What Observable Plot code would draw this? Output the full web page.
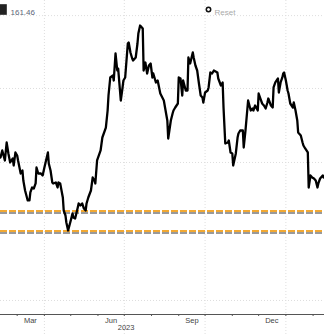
<!DOCTYPE html>
<html>
<head>
<meta charset="utf-8">
<script src="https://cdn.jsdelivr.net/npm/d3@7"></script>
<script src="https://cdn.jsdelivr.net/npm/@observablehq/plot@0.6"></script>
<style>
  html, body { margin: 0; padding: 0; background: #fff; }
  #chart svg { display: block; }
</style>
</head>
<body>
<div id="chart"></div>
<script>
const dates = [
  "2023-02-08","2023-02-10","2023-02-12","2023-02-15","2023-02-17","2023-02-19","2023-02-21","2023-02-24","2023-02-25","2023-02-27",
  "2023-03-01","2023-03-02","2023-03-05","2023-03-07","2023-03-08","2023-03-10","2023-03-13","2023-03-15","2023-03-16","2023-03-18",
  "2023-03-20","2023-03-22","2023-03-23","2023-03-25","2023-03-28","2023-03-30","2023-04-01","2023-04-05","2023-04-06","2023-04-08",
  "2023-04-10","2023-04-11","2023-04-14","2023-04-16","2023-04-17","2023-04-19","2023-04-22","2023-04-23","2023-04-25","2023-04-26",
  "2023-04-28","2023-05-01","2023-05-03","2023-05-04","2023-05-06","2023-05-09","2023-05-10","2023-05-12","2023-05-14","2023-05-16",
  "2023-05-18","2023-05-19","2023-05-21","2023-05-24","2023-05-26","2023-05-28","2023-05-29","2023-05-31","2023-06-04","2023-06-06",
  "2023-06-10","2023-06-12","2023-06-13","2023-06-15","2023-06-18","2023-06-19","2023-06-21","2023-06-23","2023-06-24","2023-06-27",
  "2023-06-29","2023-06-30","2023-07-02","2023-07-05","2023-07-06","2023-07-08","2023-07-10","2023-07-11","2023-07-14","2023-07-16",
  "2023-07-17","2023-07-19","2023-07-22","2023-07-23","2023-07-25","2023-07-27","2023-07-29","2023-07-31","2023-08-02","2023-08-03",
  "2023-08-06","2023-08-08","2023-08-11","2023-08-15","2023-08-19","2023-08-20","2023-08-23","2023-08-25","2023-08-26","2023-08-28",
  "2023-08-31","2023-09-01","2023-09-03","2023-09-05","2023-09-06","2023-09-09","2023-09-11","2023-09-12","2023-09-14","2023-09-17",
  "2023-09-18","2023-09-20","2023-09-22","2023-09-24","2023-09-26","2023-09-28","2023-09-29","2023-10-01","2023-10-04","2023-10-05",
  "2023-10-07","2023-10-09","2023-10-11","2023-10-15","2023-10-16","2023-10-19","2023-10-21","2023-10-22","2023-10-24","2023-10-27",
  "2023-10-28","2023-10-30","2023-11-01","2023-11-02","2023-11-05","2023-11-07","2023-11-08","2023-11-10","2023-11-13","2023-11-14",
  "2023-11-16","2023-11-18","2023-11-19","2023-11-22","2023-11-24","2023-11-25","2023-11-27","2023-11-30","2023-12-01","2023-12-03",
  "2023-12-05","2023-12-07","2023-12-09","2023-12-11","2023-12-12","2023-12-15","2023-12-17","2023-12-18","2023-12-20","2023-12-23",
  "2023-12-24","2023-12-26","2023-12-28","2023-12-29","2023-12-30","2024-01-01","2024-01-03","2024-01-04","2024-01-06","2024-01-09",
  "2024-01-10","2024-01-12","2024-01-14","2024-01-15","2024-01-18","2024-01-20","2024-01-21","2024-01-23","2024-01-26","2024-01-27",
  "2024-01-29","2024-01-31","2024-02-02","2024-02-04","2024-02-06","2024-02-07","2024-02-09","2024-02-12","2024-02-13","2024-02-14"
];
const closes = [
  166.3,166.35,168.24,165.54,170.40,167.43,165.00,166.08,164.19,167.70,
  166.89,165.54,162.02,162.83,160.13,157.43,154.73,154.73,156.89,158.24,
  157.97,159.32,163.64,162.02,162.02,161.48,163.64,167.70,164.73,162.83,
  159.59,159.32,159.59,158.24,159.59,159.32,155.54,152.02,150.67,148.78,
  146.62,149.32,151.21,150.13,149.86,152.83,153.92,153.38,153.92,152.56,
  152.02,153.92,155.54,157.43,160.94,160.13,159.32,165.54,168.24,171.75,
  174.45,179.05,183.10,187.97,188.51,187.16,194.46,189.86,190.40,181.75,
  185.27,187.16,187.97,197.16,197.43,194.73,193.10,192.56,193.37,197.16,
  199.86,202.02,201.21,189.86,192.02,189.05,191.21,191.75,187.97,189.05,
  186.62,187.16,183.64,181.75,176.35,171.48,176.35,178.24,179.05,179.86,
  180.94,187.97,187.70,183.10,187.16,184.45,184.45,193.37,191.75,194.73,
  193.37,191.21,189.86,186.35,183.10,182.56,181.21,183.91,184.45,185.27,
  189.32,189.05,189.86,189.32,187.70,185.81,186.62,179.86,170.13,170.40,
  170.94,167.70,167.43,164.19,167.43,171.75,172.83,173.64,173.64,169.05,
  173.64,179.05,181.75,179.05,179.59,179.05,180.40,179.05,183.64,182.29,
  180.94,180.40,179.59,181.21,182.29,180.40,179.86,185.27,186.62,187.70,
  183.91,186.62,187.97,189.05,189.32,187.16,184.45,183.64,180.94,179.86,
  181.21,179.05,176.35,173.10,172.29,170.40,169.59,168.78,167.70,158.24,
  161.48,160.94,160.67,160.13,158.24,159.32,160.67,161.48,160.94,161.46
];
const supportLevels = [151.6, 146.2];
const gridLevels = [204.7, 185, 165, 146.3, 127.7];
const quarterStarts = ["2023-04-01","2023-07-01","2023-10-01","2024-01-01"];
const monthStarts = ["2023-03-01","2023-04-01","2023-05-01","2023-06-01","2023-07-01","2023-08-01",
  "2023-09-01","2023-10-01","2023-11-01","2023-12-01","2024-01-01","2024-02-01"];
const monthLabelDates = ["2023-03-16","2023-06-16","2023-09-16","2023-12-16"];
const monthLabels = ["Mar","Jun","Sep","Dec"];
const yearLabelDates = ["2023-07-03"];
const yearLabels = ["2023"];
const lastValueLabel = ["161.46"];
const resetLabel = ["Reset"];

const series = dates.map((d, i) => ({date: new Date(d), close: closes[i]}));
const P = s => new Date(s);

const chart = Plot.plot({
  width: 324,
  height: 336,
  marginTop: 0,
  marginBottom: 22,
  marginLeft: 0,
  marginRight: 0,
  style: {fontFamily: "'Liberation Sans', Arial, sans-serif", fontSize: "7.5px", background: "#fff", overflow: "visible"},
  x: {type: "utc", domain: [P("2023-02-10"), P("2024-02-14")], axis: null},
  y: {domain: [123.91, 208.78], axis: null},
  marks: [
    Plot.ruleY(gridLevels, {stroke: "#dedede", strokeDasharray: "1,2", strokeWidth: 1}),
    Plot.ruleX(quarterStarts.map(P), {stroke: "#dedede", strokeDasharray: "1,2", strokeWidth: 1, insetBottom: -22}),
    Plot.ruleY(supportLevels, {stroke: "#9a9a9a", strokeWidth: 2, strokeDasharray: "7,2", dy: 1}),
    Plot.ruleY(supportLevels, {stroke: "#f2a933", strokeWidth: 2, strokeDasharray: "7,2", dy: -1}),
    Plot.line(series, {x: "date", y: "close", stroke: "#000", strokeWidth: 2.3, strokeLinejoin: "round", clip: true}),
    Plot.frame({anchor: "bottom", stroke: "#555"}),
    Plot.axisX({ticks: monthStarts.map(P), tickSize: 2, tickFormat: () => "", stroke: "#555", label: null}),
    Plot.axisX({ticks: monthLabelDates.map(P), tickSize: 0, tickPadding: 3, tickFormat: (d, i) => monthLabels[i], fill: "#444", label: null}),
    Plot.text(yearLabels, {x: (d, i) => P(yearLabelDates[i]), text: d => d, frameAnchor: "bottom", dy: 15, fill: "#444"}),
    Plot.dot([0], {frameAnchor: "top-left", symbol: "square", r: 6, fill: "#222", dx: 1, dy: 9}),
    Plot.text(lastValueLabel, {text: d => d, frameAnchor: "top-left", dx: 10, dy: 9, fill: "#5b6478", fontSize: 8, textAnchor: "start"}),
    Plot.dot([0], {frameAnchor: "top-left", r: 2.2, stroke: "#111", strokeWidth: 1.5, fill: "#fff", dx: 208, dy: 9}),
    Plot.text(resetLabel, {text: d => d, frameAnchor: "top-left", dx: 214, dy: 9, fill: "#aaa", fontSize: 8, textAnchor: "start"})
  ]
});
document.getElementById("chart").appendChild(chart);
</script>
</body>
</html>
